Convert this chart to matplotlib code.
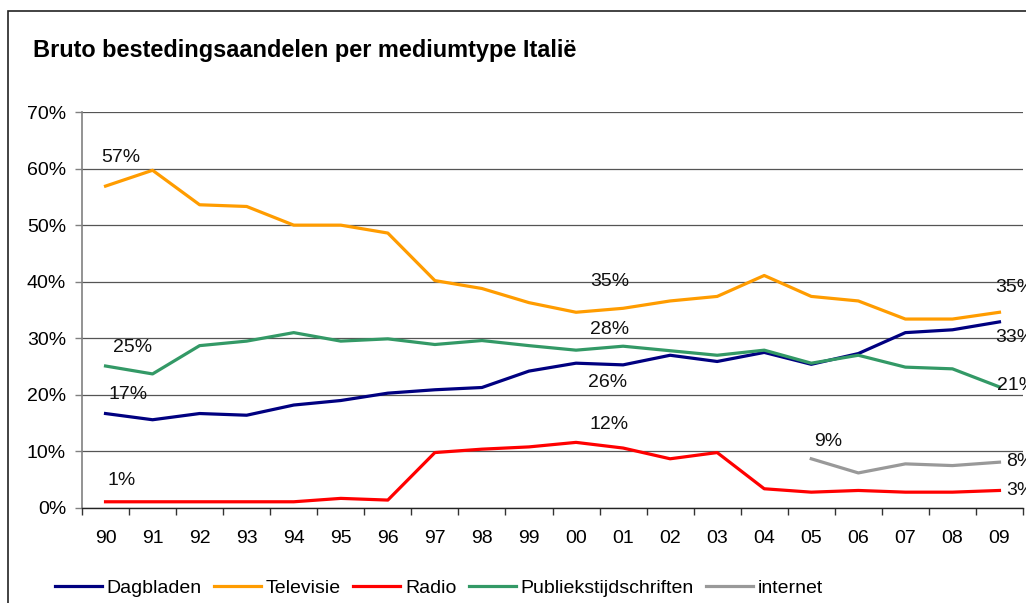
import matplotlib
matplotlib.use("Agg")
import matplotlib.pyplot as plt
from matplotlib.patches import Rectangle
from matplotlib.ticker import FixedLocator, PercentFormatter

plt.rcParams['font.family'] = ['Liberation Sans', 'DejaVu Sans']

years = ["90", "91", "92", "93", "94", "95", "96", "97", "98", "99",
         "00", "01", "02", "03", "04", "05", "06", "07", "08", "09"]

dagbladen = [16.7, 15.6, 16.7, 16.4, 18.2, 19.0, 20.3, 20.9, 21.3, 24.2,
             25.6, 25.3, 27.0, 25.9, 27.5, 25.4, 27.3, 31.0, 31.5, 32.9]
televisie = [56.9, 59.7, 53.6, 53.3, 50.0, 50.0, 48.6, 40.2, 38.8, 36.3,
             34.6, 35.3, 36.6, 37.4, 41.1, 37.4, 36.6, 33.4, 33.4, 34.6]
radio = [1.1, 1.1, 1.1, 1.1, 1.1, 1.7, 1.4, 9.8, 10.4, 10.8,
         11.6, 10.6, 8.7, 9.8, 3.4, 2.8, 3.1, 2.8, 2.8, 3.1]
publiek = [25.1, 23.7, 28.7, 29.5, 31.0, 29.5, 29.9, 28.9, 29.6, 28.7,
           27.9, 28.6, 27.8, 27.0, 27.9, 25.6, 27.0, 24.9, 24.6, 21.4]
internet_years = ["05", "06", "07", "08", "09"]
internet = [8.7, 6.2, 7.8, 7.5, 8.1]

series_names = ["Dagbladen", "Televisie", "Radio", "Publiekstijdschriften", "internet"]
colors = ["#000080", "#FF9C00", "#FF0000", "#339966", "#999999"]

# data labels: (text, x position in category units, y value)
labels = [
    ("57%", 0.32, 61.9), ("25%", 0.57, 28.3), ("17%", 0.47, 20.0), ("1%", 0.35, 4.8),
    ("35%", 10.71, 40.0), ("28%", 10.71, 31.5), ("26%", 10.67, 22.2), ("12%", 10.71, 14.7),
    ("9%", 15.37, 11.7),
]
right_labels = [
    ("35%", 18.9, 38.9), ("33%", 18.9, 30.2), ("21%", 18.94, 21.7),
    ("8%", 19.15, 8.2), ("3%", 19.15, 3.1),
]

W, H = 1026, 603
fig = plt.figure(figsize=(W / 100, H / 100), dpi=100)
ax = fig.add_axes([82 / W, 1 - 508 / H, 941 / W, 396 / H])

x = list(range(len(years)))
xi = [years.index(y) for y in internet_years]
data = [dagbladen, televisie, radio, publiek]
for vals, name, c in zip(data, series_names[:4], colors[:4]):
    ax.plot(x, vals, color=c, lw=2.3, label=name, zorder=3)
ax.plot(xi, internet, color=colors[4], lw=2.3, label=series_names[4], zorder=3)

ax.set_xlim(-0.5, len(years) - 0.5)
ax.set_ylim(0, 70)
ax.yaxis.set_major_locator(FixedLocator([0, 10, 20, 30, 40, 50, 60, 70]))
ax.yaxis.set_major_formatter(PercentFormatter(decimals=0))
ax.grid(axis='y', color='#555555', lw=0.9, zorder=1)
ax.set_axisbelow(True)

ax.set_xticks(x)
ax.set_xticklabels(years)
ax.set_xticks([i - 0.5 for i in range(len(years) + 1)], minor=True)
ax.tick_params(axis='x', which='major', length=0, pad=16, labelsize=14)
ax.tick_params(axis='x', which='minor', length=5, width=1, color='#333333', direction='out')
ax.tick_params(axis='y', which='major', length=5, width=1, color='#808080', pad=6.5, labelsize=14)

for s in ['top', 'right']:
    ax.spines[s].set_visible(False)
ax.spines['left'].set_color('#808080')
ax.spines['left'].set_linewidth(1.2)
ax.spines['bottom'].set_color('#222222')
ax.spines['bottom'].set_linewidth(1.0)

for t, lx, ly in labels:
    ax.text(lx, ly, t, ha='center', va='center', fontsize=14, color='#111111', zorder=4)
for t, lx, ly in right_labels:
    ax.text(lx, ly, t, ha='left', va='center', fontsize=14, color='#111111', clip_on=False, zorder=4)

fig.text(33 / W, 1 - 57 / H, "Bruto bestedingsaandelen per mediumtype Italië",
         fontsize=16.9, fontweight='bold', ha='left', va='baseline')

handles, lbls = ax.get_legend_handles_labels()
fig.legend(handles, lbls, loc='center', bbox_to_anchor=(439 / W, 1 - 588 / H), ncol=5,
           frameon=False, fontsize=14, handlelength=2.4, handletextpad=0.25,
           columnspacing=0.65, borderpad=0, borderaxespad=0)

fig.patches.append(Rectangle((8 / W, -0.1), 1.2, 1.1 - 10.5 / H, transform=fig.transFigure,
                             fill=False, edgecolor='#222222', lw=1.2))

fig.savefig("out.png", dpi=100)
